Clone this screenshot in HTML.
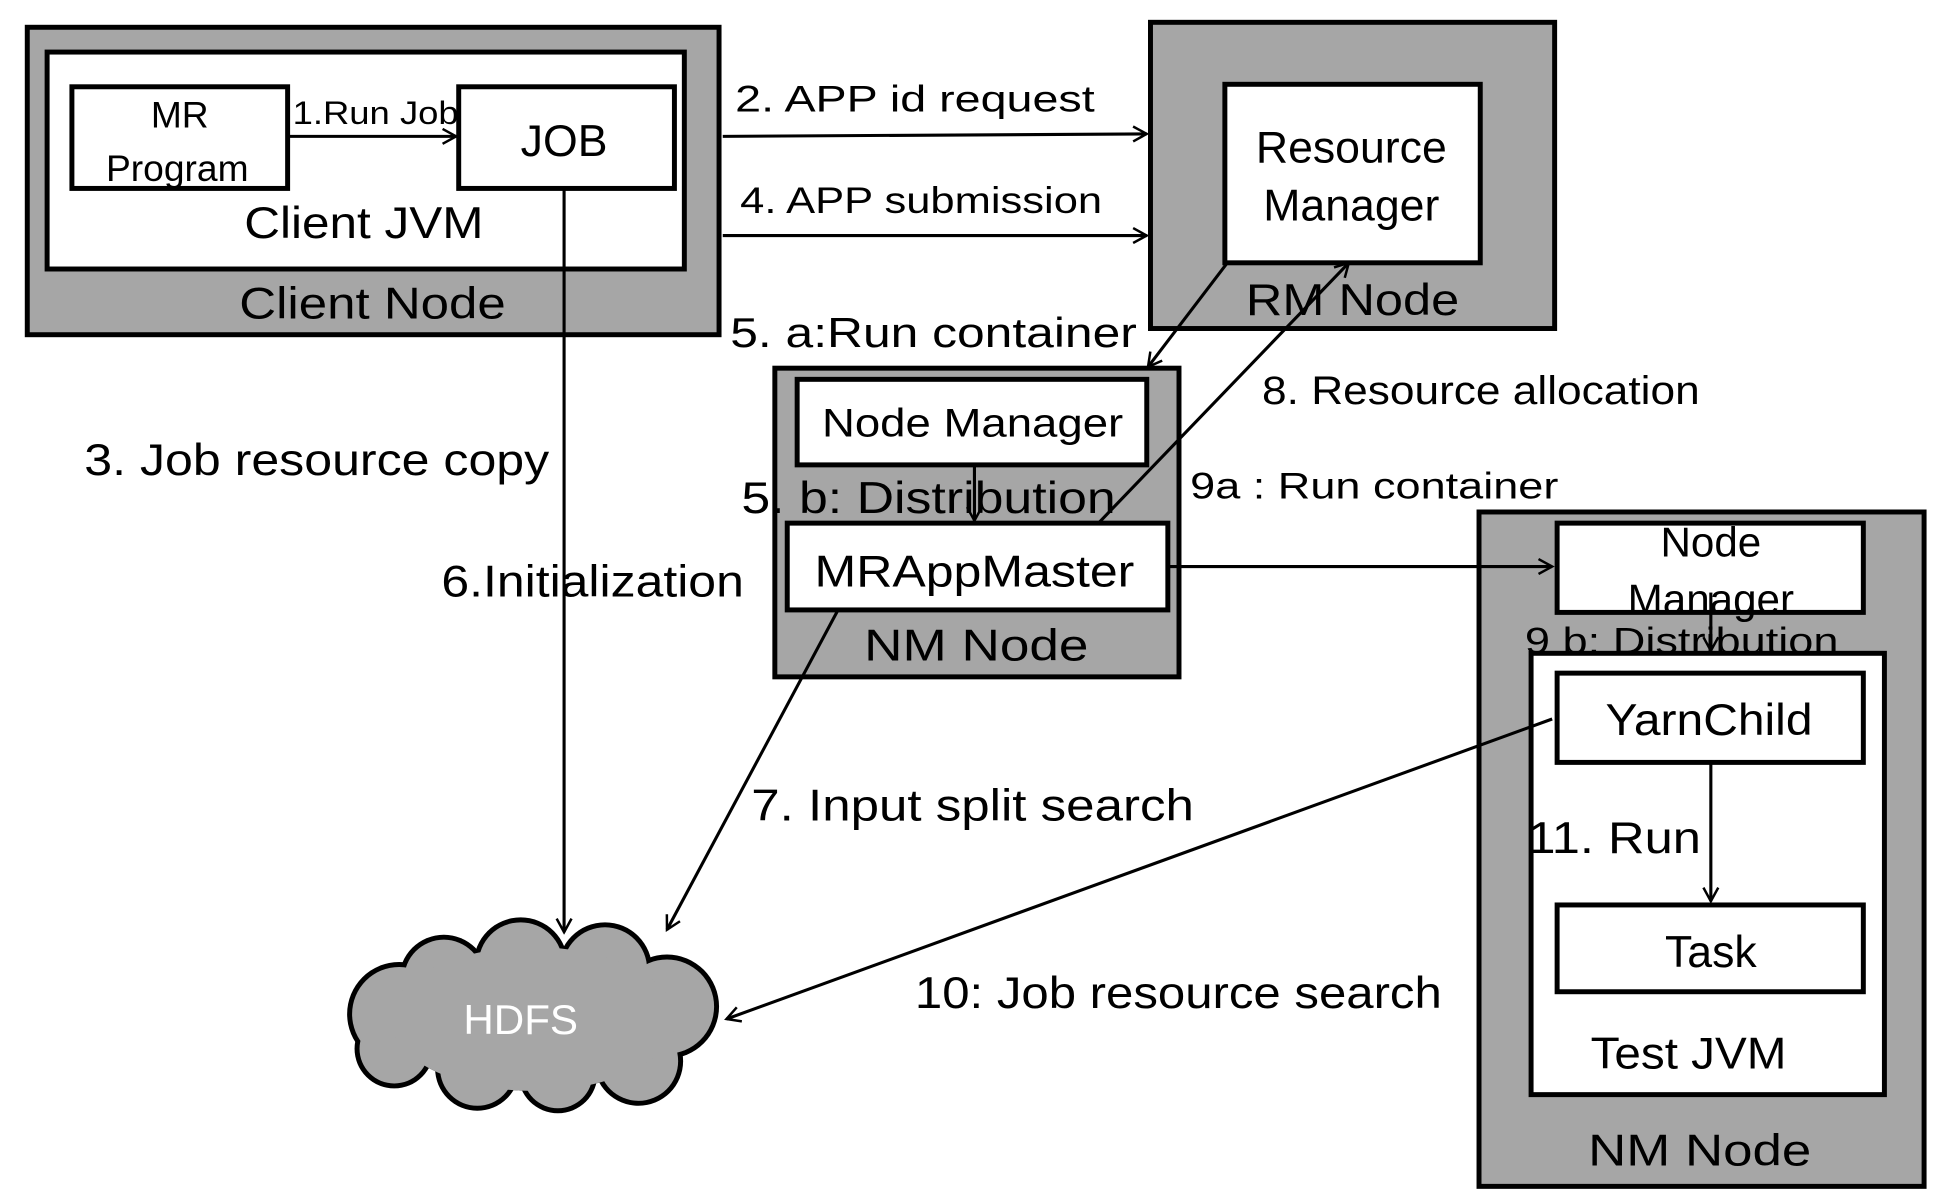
<!DOCTYPE html>
<html><head><meta charset="utf-8"><style>
html,body{margin:0;padding:0;background:#fff;}
svg{display:block;}
text{font-family:"Liberation Sans","Noto Sans CJK KR",sans-serif;fill:#000;}
</style></head><body>
<svg width="1934" height="1200" viewBox="0 0 1560 968" preserveAspectRatio="none" xmlns="http://www.w3.org/2000/svg">
<defs>
<marker id="a" markerWidth="14" markerHeight="14" refX="12" refY="7" orient="auto" markerUnits="userSpaceOnUse">
<path d="M1,1 L12,7 L1,13" fill="none" stroke="#000" stroke-width="2"/>
</marker>
</defs>
<g stroke="#000" stroke-width="4">
<rect x="22" y="22" width="558" height="248" fill="#a6a6a6"/>
<rect x="38" y="42" width="514" height="175" fill="#fff"/>
<rect x="58" y="70" width="174" height="82" fill="#fff"/>
<rect x="370" y="70" width="174" height="82" fill="#fff"/>
<rect x="928" y="18" width="326" height="247" fill="#a6a6a6"/>
<rect x="988" y="68" width="206" height="144" fill="#fff"/>
<rect x="625" y="297" width="326" height="249" fill="#a6a6a6"/>
<rect x="643" y="306" width="282" height="69" fill="#fff"/>
<rect x="635" y="422" width="307" height="70" fill="#fff"/>
<rect x="1193" y="413" width="359" height="544" fill="#a6a6a6"/>
<rect x="1256" y="422" width="247" height="72" fill="#fff"/>
<rect x="1235" y="527" width="285" height="356" fill="#fff"/>
<rect x="1256" y="543" width="247" height="72" fill="#fff"/>
<rect x="1256" y="730" width="247" height="70" fill="#fff"/>
</g>
<g fill="#000">
<circle cx="322" cy="818" r="42"/><circle cx="358" cy="790" r="36"/><circle cx="420" cy="778" r="38"/>
<circle cx="488" cy="782" r="38"/><circle cx="538" cy="812" r="42"/><circle cx="515" cy="856" r="36"/>
<circle cx="450" cy="866" r="32"/><circle cx="385" cy="862" r="34"/><circle cx="318" cy="846" r="32"/>
<ellipse cx="430" cy="822" rx="115" ry="58"/>
</g>
<g fill="#a6a6a6">
<circle cx="322" cy="818" r="38"/><circle cx="358" cy="790" r="32"/><circle cx="420" cy="778" r="34"/>
<circle cx="488" cy="782" r="34"/><circle cx="538" cy="812" r="38"/><circle cx="515" cy="856" r="32"/>
<circle cx="450" cy="866" r="28"/><circle cx="385" cy="862" r="30"/><circle cx="318" cy="846" r="28"/>
<ellipse cx="430" cy="822" rx="115" ry="58"/>
</g>
<text x="420" y="834" font-size="34" text-anchor="middle" style="fill:#fff">HDFS</text>
<g stroke="#000" stroke-width="2.5" fill="none" marker-end="url(#a)">
<line x1="232" y1="110" x2="368" y2="110"/>
<line x1="583" y1="110" x2="925" y2="108"/>
<line x1="583" y1="190" x2="925" y2="190"/>
<line x1="455" y1="152" x2="455" y2="752"/>
<line x1="990" y1="212" x2="926" y2="296"/>
<line x1="886" y1="422" x2="1088" y2="212"/>
<line x1="786" y1="375" x2="786" y2="420"/>
<line x1="942" y1="457" x2="1252" y2="457"/>
<line x1="1380" y1="478" x2="1380" y2="525"/>
<line x1="1380" y1="615" x2="1380" y2="727"/>
<line x1="676" y1="492" x2="538" y2="750"/>
<line x1="1252" y1="580" x2="586" y2="822"/>
</g>
<text x="145" y="103" font-size="30" text-anchor="middle">MR</text>
<text x="143" y="146" font-size="30" text-anchor="middle">Program</text>
<text x="455" y="126" font-size="36" text-anchor="middle">JOB</text>
<text x="236" y="100" font-size="26" textLength="134" lengthAdjust="spacingAndGlyphs">1.Run Job</text>
<text x="197" y="192" font-size="36" textLength="193" lengthAdjust="spacingAndGlyphs">Client JVM</text>
<text x="193" y="257" font-size="36" textLength="215" lengthAdjust="spacingAndGlyphs">Client Node</text>
<text x="593" y="90" font-size="30" textLength="290" lengthAdjust="spacingAndGlyphs">2. APP id  request</text>
<text x="597" y="172" font-size="30" textLength="292" lengthAdjust="spacingAndGlyphs">4. APP submission</text>
<text x="1090" y="131" font-size="36" text-anchor="middle">Resource</text>
<text x="1090" y="178" font-size="36" text-anchor="middle">Manager</text>
<text x="1005" y="254" font-size="36" textLength="172" lengthAdjust="spacingAndGlyphs">RM Node</text>
<text x="589" y="280" font-size="34" textLength="328" lengthAdjust="spacingAndGlyphs">5. a:Run container</text>
<text x="663" y="352" font-size="32" textLength="243" lengthAdjust="spacingAndGlyphs">Node Manager</text>
<text x="598" y="414" font-size="36" textLength="302" lengthAdjust="spacingAndGlyphs">5. b: Distribution</text>
<text x="657" y="473" font-size="36" textLength="258" lengthAdjust="spacingAndGlyphs">MRAppMaster</text>
<text x="697" y="533" font-size="36" textLength="181" lengthAdjust="spacingAndGlyphs">NM Node</text>
<text x="1018" y="326" font-size="32" textLength="353" lengthAdjust="spacingAndGlyphs">8. Resource  allocation</text>
<text x="960" y="402" font-size="30" textLength="297" lengthAdjust="spacingAndGlyphs">9a : Run container</text>
<text x="68" y="383" font-size="36" textLength="375" lengthAdjust="spacingAndGlyphs">3. Job resource copy</text>
<text x="356" y="481" font-size="36" textLength="244" lengthAdjust="spacingAndGlyphs">6.Initialization</text>
<text x="606" y="662" font-size="36" textLength="357" lengthAdjust="spacingAndGlyphs">7. Input split search</text>
<text x="738" y="813" font-size="36" textLength="425" lengthAdjust="spacingAndGlyphs">10: Job resource search</text>
<text x="1380" y="449" font-size="34" text-anchor="middle">Node</text>
<text x="1380" y="495" font-size="34" text-anchor="middle">Manager</text>
<text x="1230" y="527" font-size="30" textLength="253" lengthAdjust="spacingAndGlyphs">9 b: Distribution</text>
<text x="1295" y="593" font-size="36" textLength="167" lengthAdjust="spacingAndGlyphs">YarnChild</text>
<text x="1232" y="688" font-size="36" textLength="140" lengthAdjust="spacingAndGlyphs">11. Run</text>
<text x="1380" y="780" font-size="36" text-anchor="middle">Task</text>
<text x="1283" y="862" font-size="36" textLength="158" lengthAdjust="spacingAndGlyphs">Test JVM</text>
<text x="1281" y="940" font-size="36" textLength="180" lengthAdjust="spacingAndGlyphs">NM Node</text>
</svg>
</body></html>
